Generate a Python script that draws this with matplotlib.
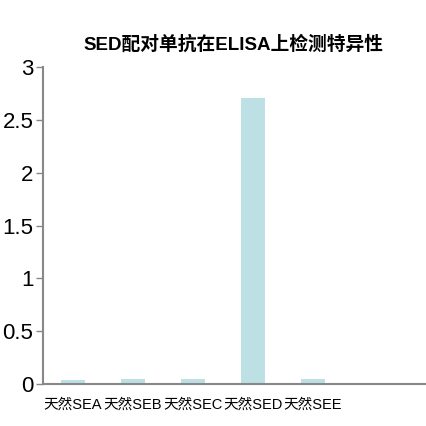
import matplotlib
matplotlib.use('Agg')
import matplotlib.pyplot as plt

plt.rcParams['font.family'] = ['Liberation Sans', 'Noto Sans CJK SC']

categories = ['天然SEA', '天然SEB', '天然SEC', '天然SED', '天然SEE']
values = [0.04, 0.05, 0.05, 2.71, 0.05]

fig = plt.figure(figsize=(4.27, 4.26), dpi=100)
ax = fig.add_axes([43 / 427, 42 / 426, 384 / 427, 317 / 426])

x = list(range(len(categories)))
ax.bar(x, values, width=0.4, color='#bde0e4')

ax.set_xlim(-0.5, 5.9)
ax.set_ylim(0, 3)
ax.set_yticks([0, 0.5, 1, 1.5, 2, 2.5, 3])
ax.set_yticklabels(['0', '0.5', '1', '1.5', '2', '2.5', '3'], fontsize=16)
ax.set_xticks(x)
ax.set_xticklabels(categories, fontsize=10.5)
ax.tick_params(axis='x', length=0, pad=10)
ax.tick_params(axis='y', length=5, width=1, color='#888888', pad=2)

for s in ['top', 'right']:
    ax.spines[s].set_visible(False)
for s in ['left', 'bottom']:
    ax.spines[s].set_color('#888888')
    ax.spines[s].set_linewidth(1.5)

fig.text(233 / 427, 0.895, 'SED配对单抗在ELISA上检测特异性', ha='center', va='center',
         fontsize=13.5, fontweight='bold')

fig.savefig('out.png', dpi=100)
